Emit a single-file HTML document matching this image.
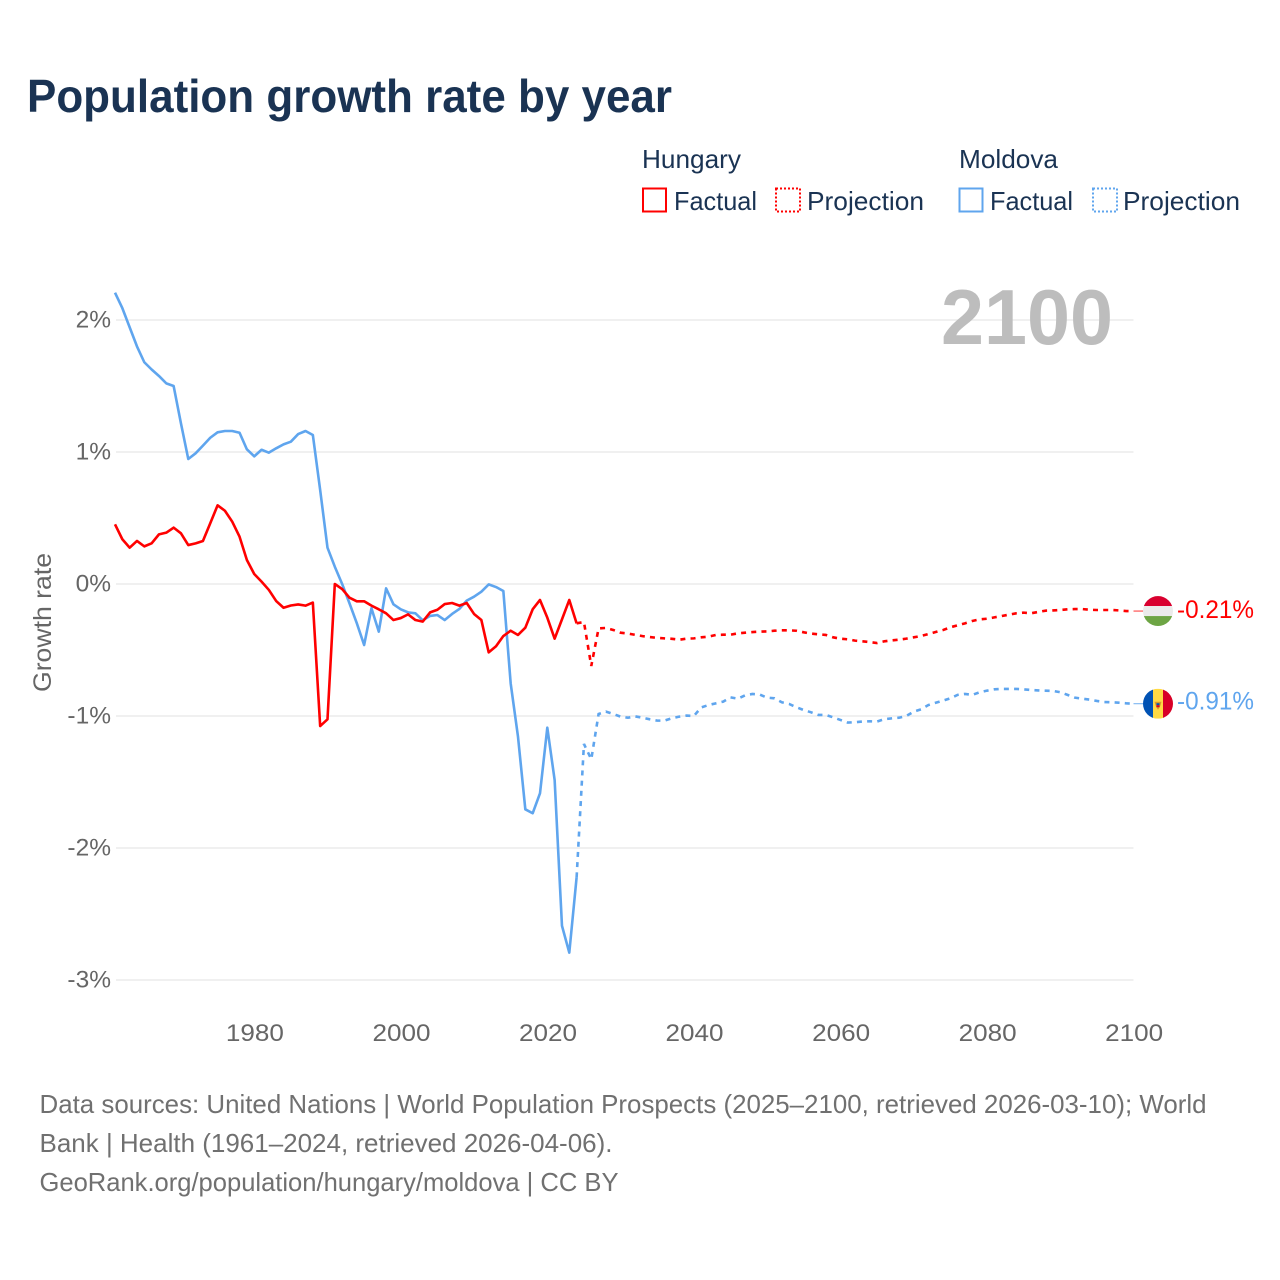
<!DOCTYPE html>
<html lang="en">
<head>
<meta charset="utf-8">
<title>Population growth rate by year</title>
<style>
html,body{margin:0;padding:0;background:#fff;width:1280px;height:1280px;overflow:hidden}
svg{display:block;font-family:"Liberation Sans",sans-serif}
</style>
</head>
<body>
<svg id="chart" xmlns="http://www.w3.org/2000/svg" width="1280" height="1280" viewBox="0 0 1280 1280">
  <text x="27" y="112" font-size="46" font-weight="700" fill="#1a3353" textLength="645" lengthAdjust="spacingAndGlyphs">Population growth rate by year</text>

  <g font-size="26" fill="#1a3353">
    <text x="642" y="168" textLength="99" lengthAdjust="spacingAndGlyphs">Hungary</text>
    <text x="959" y="168" textLength="99" lengthAdjust="spacingAndGlyphs">Moldova</text>
    <rect x="643" y="188.500" width="23" height="23" fill="none" stroke="#ff0000" stroke-width="2"/>
    <text x="674" y="210" textLength="83" lengthAdjust="spacingAndGlyphs">Factual</text>
    <rect x="776" y="188.500" width="24" height="23" fill="none" stroke="#ff0000" stroke-width="2" stroke-dasharray="2 2"/>
    <text x="807" y="210" textLength="117" lengthAdjust="spacingAndGlyphs">Projection</text>
    <rect x="959.500" y="188.500" width="23" height="23" fill="none" stroke="#5fa5ee" stroke-width="2"/>
    <text x="990" y="210" textLength="83" lengthAdjust="spacingAndGlyphs">Factual</text>
    <rect x="1093" y="188.500" width="24" height="23" fill="none" stroke="#5fa5ee" stroke-width="2" stroke-dasharray="2 2"/>
    <text x="1123" y="210" textLength="117" lengthAdjust="spacingAndGlyphs">Projection</text>
  </g>

  <g id="grid"></g>
  <g id="yTicks"></g>
  <g id="xTicks"></g>

  <text transform="translate(51,622.500) rotate(-90)" text-anchor="middle" font-size="25" fill="#666666" textLength="139" lengthAdjust="spacingAndGlyphs">Growth rate</text>

  <text x="941" y="344" font-size="78" font-weight="700" fill="#bdbdbd" textLength="172" lengthAdjust="spacingAndGlyphs">2100</text>

  <g id="series"></g>

  <defs>
    <clipPath id="clipHungary"><circle id="clipHu" cx="1158" cy="611" r="15"/></clipPath>
    <clipPath id="clipMoldova"><circle id="clipMd" cx="1158" cy="703" r="15"/></clipPath>
  </defs>
  <g id="flagHungary">
    <g clip-path="url(#clipHungary)">
      <rect x="1143" y="596" width="30" height="10" fill="#d9002f"/>
      <rect x="1143" y="606" width="30" height="10" fill="#ebebeb"/>
      <rect x="1143" y="616" width="30" height="10" fill="#6da544"/>
    </g>
  </g>
  <g id="flagMoldova">
    <g clip-path="url(#clipMoldova)">
      <rect x="1143" y="688" width="10" height="30" fill="#0052b4"/>
      <rect x="1153" y="688" width="10" height="30" fill="#ffda44"/>
      <rect x="1163" y="688" width="10" height="30" fill="#d80027"/>
      <path d="M1154.500 701 L1161.500 701 L1160 706 L1158 709 L1156 706 Z" fill="#d89a2c"/>
      <rect x="1156.500" y="702.500" width="3" height="2" fill="#0052b4"/>
      <rect x="1156.500" y="704.500" width="3" height="2" fill="#d80027"/>
    </g>
  </g>
  <text id="endHungary" x="1177" y="618" font-size="25" fill="#ff0000" textLength="77" lengthAdjust="spacingAndGlyphs"></text>
  <text id="endMoldova" x="1177" y="709" font-size="25" fill="#5fa5ee" textLength="77" lengthAdjust="spacingAndGlyphs"></text>

  <g font-size="26" fill="#707070">
    <text x="39.500" y="1113" textLength="1167" lengthAdjust="spacingAndGlyphs">Data sources: United Nations | World Population Prospects (2025–2100, retrieved 2026-03-10); World</text>
    <text x="39.500" y="1152" textLength="573" lengthAdjust="spacingAndGlyphs">Bank | Health (1961–2024, retrieved 2026-04-06).</text>
    <text x="39.500" y="1191" textLength="579" lengthAdjust="spacingAndGlyphs">GeoRank.org/population/hungary/moldova | CC BY</text>
  </g>
</svg>

<script>
const factualStartYear = 1961;
const projectionStartYear = 2024;
const yTickValues = [2, 1, 0, -1, -2, -3];
const yTickLabels = ["2%", "1%", "0%", "-1%", "-2%", "-3%"];
const xTickYears = [1980, 2000, 2020, 2040, 2060, 2080, 2100];
const endLabelHungary = "-0.21%";
const endLabelMoldova = "-0.91%";

const hungaryFactual = [
  0.452, 0.339, 0.275, 0.326, 0.285, 0.308, 0.376, 0.389, 0.427, 0.384,
  0.295, 0.308, 0.326, 0.46, 0.596, 0.555, 0.472, 0.358, 0.182, 0.076,
  0.018, -0.045, -0.129, -0.18, -0.163, -0.155, -0.164, -0.141, -1.076, -1.025,
  0.0, -0.038, -0.104, -0.131, -0.131, -0.164, -0.192, -0.222, -0.273, -0.258,
  -0.23, -0.273, -0.285, -0.215, -0.195, -0.152, -0.144, -0.164, -0.144, -0.227,
  -0.273, -0.518, -0.472, -0.394, -0.354, -0.386, -0.331, -0.192, -0.121, -0.255,
  -0.414, -0.268, -0.121, -0.298
];
const hungaryProjection = [
  -0.298, -0.288, -0.621, -0.336, -0.333, -0.348, -0.369, -0.375, -0.385, -0.395,
  -0.402, -0.408, -0.412, -0.415, -0.422, -0.414, -0.412, -0.404, -0.399, -0.386,
  -0.384, -0.384, -0.374, -0.369, -0.364, -0.361, -0.359, -0.354, -0.351, -0.351,
  -0.354, -0.366, -0.376, -0.381, -0.386, -0.404, -0.414, -0.419, -0.429, -0.434,
  -0.44, -0.447, -0.434, -0.427, -0.422, -0.414, -0.404, -0.394, -0.379, -0.364,
  -0.349, -0.328, -0.313, -0.298, -0.28, -0.268, -0.263, -0.253, -0.243, -0.232,
  -0.222, -0.217, -0.222, -0.212, -0.202, -0.2, -0.197, -0.192, -0.19, -0.19,
  -0.195, -0.197, -0.197, -0.197, -0.2, -0.205, -0.205
];
const moldovaFactual = [
  2.207, 2.09, 1.945, 1.8, 1.68, 1.625, 1.576, 1.52, 1.5, 1.217,
  0.947, 0.99, 1.048, 1.108, 1.149, 1.159, 1.159, 1.146, 1.02, 0.967,
  1.017, 0.995, 1.028, 1.058, 1.078, 1.136, 1.159, 1.129, 0.712, 0.275,
  0.131, 0.0, -0.146, -0.297, -0.462, -0.184, -0.361, -0.033, -0.154, -0.192,
  -0.215, -0.222, -0.275, -0.242, -0.235, -0.273, -0.227, -0.189, -0.126, -0.096,
  -0.058, -0.003, -0.023, -0.053, -0.753, -1.157, -1.707, -1.737, -1.586, -1.088,
  -1.485, -2.589, -2.793, -2.222
];
const moldovaProjection = [
  -2.222, -1.212, -1.328, -0.985, -0.967, -0.985, -1.005, -1.013, -1.003, -1.013,
  -1.025, -1.035, -1.035, -1.017, -1.005, -0.997, -1.0, -0.935, -0.917, -0.904,
  -0.891, -0.859, -0.869, -0.843, -0.833, -0.838, -0.861, -0.866, -0.896, -0.909,
  -0.934, -0.955, -0.972, -0.992, -0.992, -1.01, -1.03, -1.05, -1.047, -1.042,
  -1.04, -1.042, -1.024, -1.018, -1.013, -1.0, -0.967, -0.95, -0.917, -0.9,
  -0.884, -0.866, -0.84, -0.833, -0.84, -0.82, -0.808, -0.798, -0.795, -0.795,
  -0.795, -0.798, -0.803, -0.806, -0.808, -0.81, -0.82, -0.84, -0.861, -0.869,
  -0.876, -0.886, -0.894, -0.896, -0.899, -0.904, -0.907
];

const SVG_NS = "http://www.w3.org/2000/svg";
const plotLeft = 115, plotRight = 1133.5, yearMin = 1961, yearMax = 2100;
const zeroY = 584, pxPerPercent = 132;
const RED = "#ff0000", BLUE = "#5fa5ee";

function xScale(year) {
  return plotLeft + (year - yearMin) * (plotRight - plotLeft) / (yearMax - yearMin);
}
function yScale(value) {
  return zeroY - value * pxPerPercent;
}
function make(tag, attrs) {
  const el = document.createElementNS(SVG_NS, tag);
  for (const k in attrs) el.setAttribute(k, attrs[k]);
  return el;
}

const gridGroup = document.getElementById("grid");
const yTickGroup = document.getElementById("yTicks");
yTickValues.forEach(function (v, i) {
  const line = make("line", { x1: plotLeft + 1, x2: plotRight, y1: yScale(v), y2: yScale(v), stroke: "#ebebeb", "stroke-width": 1.5 });
  
  
  gridGroup.appendChild(line);
  const label = make("text", { x: 111, y: yScale(v) + 7.5, "text-anchor": "end", "font-size": 24.5, fill: "#666666" });
  
  
  label.textContent = yTickLabels[i];
  yTickGroup.appendChild(label);
});

const xTickGroup = document.getElementById("xTicks");
xTickYears.forEach(function (year) {
  const label = make("text", { x: xScale(year) + 0.7, y: 1041, "text-anchor": "middle", "font-size": 24.5, fill: "#666666", textLength: 58, lengthAdjust: "spacingAndGlyphs" });
  
  
  label.textContent = String(year);
  xTickGroup.appendChild(label);
});

function pathFrom(values, startYear) {
  return values.map(function (v, i) {
    return (i ? "L" : "M") + xScale(startYear + i).toFixed(2) + " " + yScale(v).toFixed(2);
  }).join(" ");
}

const seriesGroup = document.getElementById("series");

const moldovaFactualLine = make("path", { d: pathFrom(moldovaFactual, factualStartYear), fill: "none", stroke: BLUE, "stroke-width": 2.6, "stroke-linejoin": "round" });


seriesGroup.appendChild(moldovaFactualLine);

const moldovaProjectionLine = make("path", { d: pathFrom(moldovaProjection, projectionStartYear), fill: "none", stroke: BLUE, "stroke-width": 2.6, "stroke-dasharray": "5 5.200" });


seriesGroup.appendChild(moldovaProjectionLine);

const hungaryFactualLine = make("path", { d: pathFrom(hungaryFactual, factualStartYear), fill: "none", stroke: RED, "stroke-width": 2.6, "stroke-linejoin": "round" });


seriesGroup.appendChild(hungaryFactualLine);

const hungaryProjectionLine = make("path", { d: pathFrom(hungaryProjection, projectionStartYear), fill: "none", stroke: RED, "stroke-width": 2.6, "stroke-dasharray": "5 5.200" });


seriesGroup.appendChild(hungaryProjectionLine);

const huLast = yScale(hungaryProjection[hungaryProjection.length - 1]);
const mdLast = yScale(moldovaProjection[moldovaProjection.length - 1]);

const hungaryLeader = make("line", { x1: plotRight, x2: 1144, y1: huLast, y2: huLast, stroke: RED, "stroke-width": 1, opacity: 0.8 });


seriesGroup.appendChild(hungaryLeader);

const moldovaLeader = make("line", { x1: plotRight, x2: 1144, y1: mdLast, y2: mdLast, stroke: BLUE, "stroke-width": 1, opacity: 0.9 });


seriesGroup.appendChild(moldovaLeader);

document.getElementById("flagHungary").setAttribute("transform", "translate(0," + (huLast - 611).toFixed(2) + ")");
document.getElementById("flagMoldova").setAttribute("transform", "translate(0," + (mdLast - 703).toFixed(2) + ")");

const endHu = document.getElementById("endHungary");
endHu.textContent = endLabelHungary;
endHu.setAttribute("y", (huLast + 7).toFixed(2));
const endMd = document.getElementById("endMoldova");
endMd.textContent = endLabelMoldova;
endMd.setAttribute("y", (mdLast + 6).toFixed(2));
</script>
</body>
</html>
